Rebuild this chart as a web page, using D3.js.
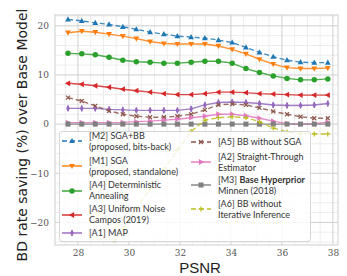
<!DOCTYPE html>
<html><head><meta charset="utf-8">
<script src="https://cdn.jsdelivr.net/npm/d3@7"></script>
<style>body{margin:0;background:#fff}svg{display:block}</style>
</head><body><div id="chart"></div>
<script>
const psnr = [27.61, 28.15, 28.68, 29.22, 29.76, 30.29, 30.83, 31.37, 31.90, 32.44, 32.98, 33.51, 34.05, 34.59, 35.12, 35.66, 36.20, 36.73, 37.27, 37.80];
const M2 = [21.3, 21.0, 20.6, 20.3, 19.8, 19.3, 18.7, 18.3, 17.9, 17.7, 17.5, 17.1, 16.6, 15.6, 14.6, 13.7, 13.0, 12.6, 12.5, 12.5];
const M1 = [18.6, 18.9, 18.7, 18.3, 17.9, 17.4, 16.8, 16.4, 16.3, 16.3, 16.3, 15.9, 15.2, 14.3, 13.2, 12.2, 11.5, 11.3, 11.3, 11.4];
const A4 = [14.4, 14.3, 14.1, 13.6, 13.0, 12.7, 12.6, 12.4, 12.4, 12.6, 12.8, 12.8, 12.4, 11.3, 10.5, 9.8, 9.3, 9.0, 9.0, 9.2];
const A3 = [8.3, 8.1, 7.8, 7.5, 7.1, 6.8, 6.5, 6.2, 6.0, 6.0, 6.2, 6.5, 6.5, 6.4, 6.2, 6.1, 6.0, 5.9, 5.9, 5.9];
const A1 = [3.2, 3.2, 3.2, 3.0, 2.9, 2.8, 2.8, 2.8, 2.8, 3.1, 3.9, 4.4, 4.5, 4.4, 4.2, 3.9, 3.8, 3.8, 3.9, 4.2];
const A5 = [5.4, 4.7, 3.7, 2.7, 2.0, 1.6, 1.4, 1.4, 1.6, 2.0, 2.9, 3.9, 4.1, 3.9, 3.3, 2.6, 2.0, 1.5, 1.2, 1.2];
const A2 = [0.3, 0.3, 0.3, 0.3, 0.35, 0.5, 0.6, 0.8, 1.0, 1.3, 1.6, 2.0, 2.0, 1.7, 1.2, 0.6, 0.1, 0.0, 0.1, 0.4];
const M3 = [0, 0, 0, 0, 0, 0, 0, 0, 0, 0, 0, 0, 0, 0, 0, 0, 0, 0, 0, 0];
const A6 = [-37.5, -33.5, -29.5, -25.5, -21.3, -17.2, -13.1, -9.3, -5.3, -1.5, 0.8, 1.3, 1.5, 1.3, 0.5, -0.8, -1.6, -1.9, -2.0, -2.0];
const xTicks = [28, 30, 32, 34, 36, 38];
const yTicks = [-20, -10, 0, 10, 20];

const series = [
  {key:"M2", vals:M2, color:"#1f77b4", dash:"5,3", marker:"triUp", label:["[M2] SGA+BB","(proposed, bits-back)"]},
  {key:"M1", vals:M1, color:"#ff7f0e", dash:null, marker:"triDown", label:["[M1] SGA","(proposed, standalone)"]},
  {key:"A4", vals:A4, color:"#2ca02c", dash:null, marker:"circle", label:["[A4] Deterministic","Annealing"]},
  {key:"A3", vals:A3, color:"#d62728", dash:null, marker:"triLeft", label:["[A3] Uniform Noise","Campos (2019)"]},
  {key:"A1", vals:A1, color:"#9467bd", dash:null, marker:"thinD", label:["[A1] MAP"]},
  {key:"A5", vals:A5, color:"#8c564b", dash:"5,3", marker:"x", label:["[A5] BB without SGA"]},
  {key:"A2", vals:A2, color:"#e377c2", dash:null, marker:"triRight", label:["[A2] Straight-Through","Estimator"]},
  {key:"M3", vals:M3, color:"#7f7f7f", dash:null, marker:"square", label:["[M3] ","Minnen (2018)"], bold:"Base Hyperprior"},
  {key:"A6", vals:A6, color:"#bcbd22", dash:"5,3", marker:"plus", label:["[A6] BB without","Iterative Inference"]}
];

const W = 347, H = 276;
const L = 55, R = 338, T = 15, B = 245;
const x = d3.scaleLinear().domain([27.1, 38.2]).range([L, R]);
const y = d3.scaleLinear().domain([-24.6, 22.2]).range([B, T]);

const svg = d3.select("#chart").append("svg").attr("width", W).attr("height", H);
svg.append("defs").append("clipPath").attr("id","clip").append("rect")
  .attr("x", L).attr("y", T).attr("width", R-L).attr("height", B-T);

// grid
const g = svg.append("g");
const minorX = d3.range(27.5, 38.21, 0.5).filter(v => v % 2 !== 0);
const minorY = d3.range(-24, 22.3, 2).filter(v => v % 10 !== 0);
g.selectAll(".mx").data(minorX).join("line").attr("x1", d=>x(d)).attr("x2", d=>x(d)).attr("y1", T).attr("y2", B).attr("stroke", "#e8e8e8").attr("stroke-width", 0.8);
g.selectAll(".my").data(minorY).join("line").attr("y1", d=>y(d)).attr("y2", d=>y(d)).attr("x1", L).attr("x2", R).attr("stroke", "#e8e8e8").attr("stroke-width", 0.8);
g.selectAll(".Mx").data(xTicks).join("line").attr("x1", d=>x(d)).attr("x2", d=>x(d)).attr("y1", T).attr("y2", B).attr("stroke", "#d0d0d0").attr("stroke-width", 1);
g.selectAll(".My").data(yTicks).join("line").attr("y1", d=>y(d)).attr("y2", d=>y(d)).attr("x1", L).attr("x2", R).attr("stroke", "#d0d0d0").attr("stroke-width", 1);

// axes labels via d3 axes
const fmt = d => (d < 0 ? "\u2212" + Math.abs(d) : String(d));
const xAxis = svg.append("g").attr("transform", `translate(0,${B})`).call(d3.axisBottom(x).tickValues(xTicks).tickSize(0).tickPadding(5).tickFormat(fmt));
const yAxis = svg.append("g").attr("transform", `translate(${L},0)`).call(d3.axisLeft(y).tickValues(yTicks).tickSize(0).tickPadding(6).tickFormat(fmt));
[xAxis, yAxis].forEach(a => {
  a.select(".domain").remove();
  a.selectAll("text").attr("fill", "#555").style("font-family", "'DejaVu Serif', serif").style("font-size", "9px");
});

// frame
svg.append("rect").attr("x", L).attr("y", T).attr("width", R-L).attr("height", B-T).attr("fill", "none").attr("stroke", "#cfcfcf").attr("stroke-width", 1);

// marker drawing
function drawMarker(sel, type, color, s) {
  const h = s;
  if (type === "circle") sel.append("circle").attr("r", h*0.55).attr("fill", color);
  else if (type === "square") sel.append("rect").attr("x", -h*0.5).attr("y", -h*0.5).attr("width", h).attr("height", h).attr("fill", color);
  else if (type.startsWith("tri")) {
    const rot = {triUp:0, triDown:180, triLeft:-90, triRight:90}[type];
    sel.append("path").attr("d", `M0,${-h*0.62}L${h*0.58},${h*0.42}L${-h*0.58},${h*0.42}Z`).attr("fill", color).attr("transform", `rotate(${rot})`);
  } else if (type === "thinD") {
    sel.append("path").attr("d", `M0,${-h*0.6}L${h*0.25},0L0,${h*0.6}L${-h*0.25},0Z`).attr("fill", color).attr("stroke", color).attr("stroke-width", 1);
  } else if (type === "x") {
    const a = h*0.4;
    sel.append("path").attr("d", `M${-a},${-a}L${a},${a}M${-a},${a}L${a},${-a}`).attr("stroke", color).attr("stroke-width", 1.2);
  } else if (type === "plus") {
    const a = h*0.5;
    sel.append("path").attr("d", `M${-a},0L${a},0M0,${-a}L0,${a}`).attr("stroke", color).attr("stroke-width", 1.2);
  }
}

const line = d3.line().x((d,i)=>x(psnr[i])).y(d=>y(d));
const plot = svg.append("g").attr("clip-path", "url(#clip)");
series.forEach(s => {
  plot.append("path").datum(s.vals).attr("d", line).attr("fill", "none")
    .attr("stroke", s.color).attr("stroke-width", 1.4).attr("stroke-opacity", 0.85)
    .attr("stroke-dasharray", s.dash);
  s.vals.forEach((v,i) => {
    const m = plot.append("g").attr("transform", `translate(${x(psnr[i])},${y(v)})`);
    drawMarker(m, s.marker, s.color, 5);
  });
});

// legend
const lg = svg.append("g");
lg.append("rect").attr("x", 59.5).attr("y", 131.5).attr("width", 251).attr("height", 110).attr("rx", 2.5)
  .attr("fill", "#fff").attr("fill-opacity", 0.82).attr("stroke", "#cccccc").attr("stroke-width", 0.8);
const legPos = [
  {hx:62, tx:89, hy:141, ty:[136,146.5]},
  {hx:62, tx:89, hy:166, ty:[161,171.5]},
  {hx:62, tx:89, hy:191, ty:[185,195.5]},
  {hx:62, tx:89, hy:215, ty:[209,219.5]},
  {hx:62, tx:89, hy:233, ty:[233]},
  {hx:191, tx:218, hy:142, ty:[142]},
  {hx:191, tx:218, hy:162, ty:[157,167.5]},
  {hx:191, tx:218, hy:185, ty:[180,190.5]},
  {hx:191, tx:218, hy:209, ty:[204,214.5]}
];
series.forEach((s, k) => {
  const p = legPos[k];
  lg.append("line").attr("x1", p.hx).attr("x2", p.hx+20).attr("y1", p.hy).attr("y2", p.hy)
    .attr("stroke", s.color).attr("stroke-width", 1.4).attr("stroke-dasharray", s.dash);
  drawMarker(lg.append("g").attr("transform", `translate(${p.hx+10},${p.hy})`), s.marker, s.color, 5);
  s.label.forEach((t, j) => {
    const tx = lg.append("text").attr("x", p.tx).attr("y", p.ty[j]).attr("dy", "0.35em")
      .attr("fill", "#333").style("font-family", "Lato, sans-serif").style("font-size", "9px").text(t);
    if (j === 0 && s.bold) tx.append("tspan").attr("font-weight", "bold").text(s.bold);
  });
});

// axis titles
svg.append("text").attr("x", 200).attr("y", 272.5).attr("text-anchor", "middle")
  .attr("fill", "#222").style("font-family", "'Liberation Sans', sans-serif").style("font-size", "15px").text("PSNR");
svg.append("text").attr("transform", `translate(27,${(T+B)/2 + 5}) rotate(-90)`).attr("text-anchor", "middle")
  .attr("fill", "#222").style("font-family", "'DejaVu Sans', sans-serif").style("font-size", "14px")
  .text("BD rate saving (%) over Base Model");
</script></body></html>
